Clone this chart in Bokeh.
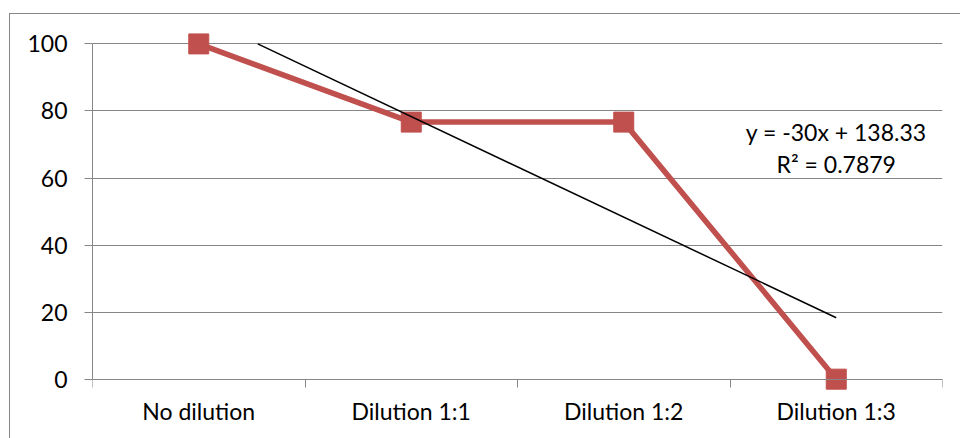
import numpy as np
from bokeh.plotting import figure
from bokeh.models import FixedTicker, Range1d, Label, InlineStyleSheet
from bokeh.embed import file_html
from bokeh.resources import INLINE

# Data
categories = ["No dilution", "Dilution 1:1", "Dilution 1:2", "Dilution 1:3"]
values = [100, 76.67, 76.67, 0]
y_ticks = [0, 20, 40, 60, 80, 100]

# Linear trendline y = m*x + b (x = category index starting at 1)
trend_slope = -30
trend_intercept = 138.33
trend_r2 = 0.7879

RED = "#C0504D"
GRAY = "#868686"
FONT = "Lato"
FONT_SIZE = "23px"

positions = [float(i + 1) for i in range(len(categories))]
y_min, y_max = y_ticks[0], y_ticks[-1]

# The frame runs below zero so the category axis (pinned at y = 0) has room for
# its labels, and slightly above 100 so the top marker is not clipped.
p = figure(
    width=960, height=438,
    output_backend="svg", toolbar_location=None,
    x_range=Range1d(0.5, len(categories) + 0.5),
    y_range=Range1d(y_min - 17.7, y_max + 4),
    min_border_left=92, min_border_right=18,
    min_border_top=30, min_border_bottom=0,
)
p.outline_line_color = None
p.background_fill_color = "white"
p.border_fill_color = "white"

# Outer chart-area border (left and top edges visible)
p.stylesheets = [InlineStyleSheet(css=(
    ":host::after{content:'';position:absolute;left:9px;top:13px;"
    "width:960px;height:430px;border-left:1px solid #868686;"
    "border-top:1px solid #868686;pointer-events:none;z-index:10;}"
))]

# Y axis
yax = p.yaxis[0]
yax.ticker = FixedTicker(ticks=y_ticks, minor_ticks=[])
yax.bounds = (y_min, y_max)
yax.axis_line_color = GRAY
yax.major_tick_line_color = GRAY
yax.major_tick_out = 8
yax.major_tick_in = 0
yax.major_label_standoff = 17
yax.major_label_text_font = FONT
yax.major_label_text_font_size = FONT_SIZE
yax.major_label_text_color = "black"

# X axis sits at y = 0; tick marks between categories, labels at centres
xax = p.xaxis[0]
xax.fixed_location = y_min
xax.ticker = FixedTicker(ticks=positions,
                         minor_ticks=[i + 0.5 for i in range(len(categories) + 1)])
xax.major_label_overrides = {pos: c for pos, c in zip(positions, categories)}
xax.axis_line_color = GRAY
xax.major_tick_out = 0
xax.major_tick_in = 0
xax.minor_tick_line_color = GRAY
xax.minor_tick_out = 8
xax.minor_tick_in = 0
xax.major_label_standoff = 10
xax.major_label_text_font = FONT
xax.major_label_text_font_size = FONT_SIZE
xax.major_label_text_color = "black"

# Grid
p.xgrid.grid_line_color = None
p.ygrid.ticker = FixedTicker(ticks=y_ticks, minor_ticks=[])
p.ygrid.grid_line_color = GRAY
p.ygrid.grid_line_width = 1

# Series
p.line(positions, values, line_color=RED, line_width=5.5)
p.scatter(positions, values, marker="square", size=20, fill_color=RED, line_color=RED)

# Trendline, clipped at the top of the value axis
x_start = max(1.0, (y_max - trend_intercept) / trend_slope)
tx = np.array([x_start, float(len(categories))])
ty = trend_slope * tx + trend_intercept
p.line(tx, ty, line_color="black", line_width=1.5)

# Trendline equation
p.add_layout(Label(x=4.0, y=73.6, text=f"y = {trend_slope}x + {trend_intercept:.2f}",
                   text_align="center", text_baseline="middle",
                   text_font=FONT, text_font_size=FONT_SIZE, text_color="black"))
p.add_layout(Label(x=4.0, y=64.3, text=f"R² = {trend_r2:.4f}",
                   text_align="center", text_baseline="middle",
                   text_font=FONT, text_font_size=FONT_SIZE, text_color="black"))

open("out.html", "w").write(file_html(p, INLINE))
